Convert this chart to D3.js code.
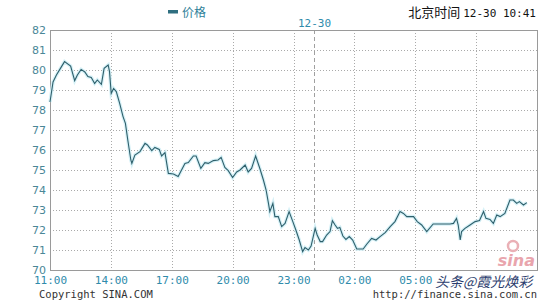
<!DOCTYPE html>
<html>
<head>
<meta charset="utf-8">
<script src="https://cdn.jsdelivr.net/npm/d3@7"></script>
<style>
  body { margin: 0; background: #fff; }
  svg { display: block; }
  .mono { font-family: "DejaVu Sans Mono", "Liberation Mono", monospace; }
</style>
</head>
<body>
<div id="chart"></div>
<script>
// chart data
var times = ["11:00","11:09","11:19","11:34","11:43","12:01","12:13","12:21","12:32","12:43",
  "12:52","13:02","13:12","13:20","13:32","13:40","13:52","13:56","14:01","14:08",
  "14:16","14:26","14:36","14:43","14:50","14:59","15:02","15:11","15:26","15:41",
  "15:48","16:01","16:10","16:23","16:30","16:40","16:50","17:05","17:19","17:39",
  "17:49","18:04","18:12","18:26","18:38","18:48","19:03","19:17","19:26","19:37",
  "19:47","20:00","20:12","20:22","20:37","20:46","20:56","21:08","21:21","21:31",
  "21:39","21:46","21:50","21:59","22:05","22:15","22:25","22:35","22:47","22:58",
  "23:07","23:17","23:27","23:34","23:44","23:52","00:04","00:10","00:19","00:26",
  "00:38","00:48","00:55","01:03","01:10","01:17","01:26","01:35","01:45","01:55",
  "02:07","02:17","02:26","02:37","02:51","03:04","03:16","03:31","03:46","04:00",
  "04:15","04:25","04:35","04:55","05:06","05:19","05:34","05:53","06:18","06:43",
  "06:53","07:02","07:07","07:13","07:17","07:27","07:42","07:57","08:10","08:22",
  "08:29","08:41","08:51","09:01","09:11","09:25","09:40","09:50","10:00","10:08",
  "10:20","10:30"];
var prices = [78.4,79.4,79.75,80.17,80.42,80.2,79.47,79.75,80.03,79.9,
  79.67,79.63,79.33,79.5,79.28,80.08,80.25,79.92,78.83,79.08,
  78.92,78.33,77.67,77.33,76.5,75.5,75.33,75.75,75.92,76.33,
  76.25,75.97,76.13,76.03,75.7,75.87,74.83,74.8,74.67,75.33,
  75.37,75.7,75.7,75.08,75.37,75.33,75.47,75.5,75.63,75.13,
  74.97,74.62,74.9,75.0,75.25,74.9,75.08,75.7,75.05,74.5,
  74.0,73.33,72.92,73.33,72.67,72.67,72.17,72.33,72.92,72.42,
  72.0,71.5,70.92,71.12,71.0,71.2,72.08,71.75,71.42,71.42,
  71.75,71.92,72.47,72.25,72.08,72.13,71.7,71.53,71.67,71.5,
  71.05,71.05,71.05,71.3,71.58,71.5,71.67,71.87,72.17,72.42,
  72.92,72.83,72.67,72.67,72.42,72.25,71.92,72.3,72.3,72.3,
  72.33,72.58,72.25,71.5,71.92,72.08,72.25,72.42,72.47,72.92,
  72.58,72.53,72.33,72.75,72.67,72.83,73.5,73.5,73.33,73.42,
  73.25,73.37];
var yTicks = [70,71,72,73,74,75,76,77,78,79,80,81,82];
var xGridTimes = ["14:00","17:00","20:00","23:00","02:00","05:00","08:00"];
var xTickLabels = ["11:00","14:00","17:00","20:00","23:00","02:00","05:00"];
var dayLabel = "12-30";
var legendName = "价格";
var titleText = "北京时间";
var stampText = "12-30 10:41";

var canvas_width = 540, canvas_height = 300;
var plotL = 50, plotR = 537, plotT = 30, plotB = 270;

// times before 11:00 belong to the next day
function toDate(s) {
    var p = s.split(":"), h = +p[0], m = +p[1];
    return new Date(2019, 11, h < 11 ? 30 : 29, h, m);
}

var x = d3.scaleTime()
    .domain([new Date(2019, 11, 29, 11, 0), new Date(2019, 11, 30, 11, 0)])
    .range([plotL, plotR]);
var y = d3.scaleLinear().domain([70, 82]).range([plotB, plotT]);

var svg = d3.select("#chart").append("svg")
    .attr("width", canvas_width)
    .attr("height", canvas_height);

// horizontal grid
svg.append("g").selectAll("line")
    .data(yTicks.filter(function(d) { return d > 70 && d < 82; }))
    .enter().append("line")
    .attr("x1", plotL).attr("x2", plotR)
    .attr("y1", function(d) { return y(d) + 0.5; })
    .attr("y2", function(d) { return y(d) + 0.5; })
    .attr("stroke", "#aaaaaa")
    .attr("stroke-dasharray", "1,2");

// vertical grid
svg.append("g").selectAll("line")
    .data(xGridTimes)
    .enter().append("line")
    .attr("x1", function(d) { return Math.round(x(toDate(d))) + 0.5; })
    .attr("x2", function(d) { return Math.round(x(toDate(d))) + 0.5; })
    .attr("y1", plotT).attr("y2", plotB)
    .attr("stroke", "#aaaaaa")
    .attr("stroke-dasharray", "1,2");

// day change
var mid = Math.round(x(new Date(2019, 11, 30, 0, 0))) + 0.5;
svg.append("line")
    .attr("x1", mid).attr("x2", mid)
    .attr("y1", plotT).attr("y2", plotB)
    .attr("stroke", "#a0a0a0")
    .attr("stroke-dasharray", "4,3");

svg.append("rect")
    .attr("x", plotL + 0.5).attr("y", plotT + 0.5)
    .attr("width", plotR - plotL).attr("height", plotB - plotT)
    .attr("fill", "none")
    .attr("stroke", "#9a9a9a");

// price line
var line = d3.line()
    .x(function(d, i) { return x(toDate(times[i])); })
    .y(function(d) { return y(d); });

svg.append("path")
    .datum(prices)
    .attr("d", line)
    .attr("fill", "none")
    .attr("stroke", "#d6f1f7")
    .attr("stroke-width", 3.5);
svg.append("path")
    .datum(prices)
    .attr("d", line)
    .attr("fill", "none")
    .attr("stroke", "#2e5f6b")
    .attr("stroke-width", 1.1);

// y axis labels
var yAxis = svg.append("g")
    .attr("transform", "translate(" + plotL + ",0)")
    .call(d3.axisLeft(y).tickValues(yTicks).tickSize(0).tickPadding(4));
yAxis.select(".domain").remove();
yAxis.selectAll("text")
    .attr("fill", "#4a8797")
    .style("font-family", "DejaVu Sans, sans-serif")
    .style("font-size", "11px");

// x axis labels
var xAxis = svg.append("g")
    .attr("transform", "translate(0," + plotB + ")")
    .call(d3.axisBottom(x)
        .tickValues(xTickLabels.map(toDate))
        .tickFormat(d3.timeFormat("%H:%M"))
        .tickSize(0).tickPadding(6));
xAxis.select(".domain").remove();
xAxis.selectAll("text")
    .attr("fill", "#2f8bab")
    .attr("class", "mono")
    .style("font-size", "11px");

// header
svg.append("rect")
    .attr("x", 168).attr("y", 10)
    .attr("width", 10).attr("height", 3.5)
    .attr("fill", "#2f6f80");
svg.append("text")
    .attr("x", 182).attr("y", 17)
    .attr("fill", "#2f7f99")
    .style("font-family", "Noto Sans CJK SC, sans-serif")
    .style("font-size", "12px")
    .text(legendName);

var head = svg.append("text")
    .attr("x", 536).attr("y", 17)
    .attr("text-anchor", "end")
    .attr("fill", "#111");
head.append("tspan")
    .style("font-family", "Noto Sans CJK SC, sans-serif")
    .style("font-size", "13px")
    .text(titleText + " ");
head.append("tspan")
    .attr("class", "mono")
    .style("font-size", "11px")
    .text(stampText);

svg.append("text")
    .attr("x", mid).attr("y", 27)
    .attr("text-anchor", "middle")
    .attr("class", "mono")
    .attr("fill", "#2f8bab")
    .style("font-size", "11px")
    .text(dayLabel);

// footer
svg.append("text")
    .attr("x", 39).attr("y", 298)
    .attr("class", "mono")
    .attr("fill", "#333")
    .style("font-size", "10.5px")
    .text("Copyright  SINA.COM");
svg.append("text")
    .attr("x", 537).attr("y", 298)
    .attr("text-anchor", "end")
    .attr("class", "mono")
    .attr("fill", "#333")
    .style("font-size", "10.5px")
    .text("http://finance.sina.com.cn");

// sina mark
svg.append("circle")
    .attr("cx", 513).attr("cy", 246).attr("r", 5)
    .attr("fill", "none")
    .attr("stroke", "#eab0b6")
    .attr("stroke-width", 2.5);
svg.append("text")
    .attr("x", 535).attr("y", 266)
    .attr("text-anchor", "end")
    .attr("fill", "#e9a5ad")
    .style("font-family", "DejaVu Sans, sans-serif")
    .style("font-weight", "bold")
    .style("font-style", "italic")
    .style("font-size", "16px")
    .text("sina");

// watermark
svg.append("text")
    .attr("x", 435).attr("y", 287)
    .attr("fill", "#2c3d6e")
    .attr("stroke", "#ffffff")
    .attr("stroke-width", 2)
    .attr("paint-order", "stroke")
    .style("font-family", "Noto Sans CJK SC, sans-serif")
    .style("font-style", "italic")
    .style("font-size", "14px")
    .text("头条@霞光焕彩");
</script>
</body>
</html>
